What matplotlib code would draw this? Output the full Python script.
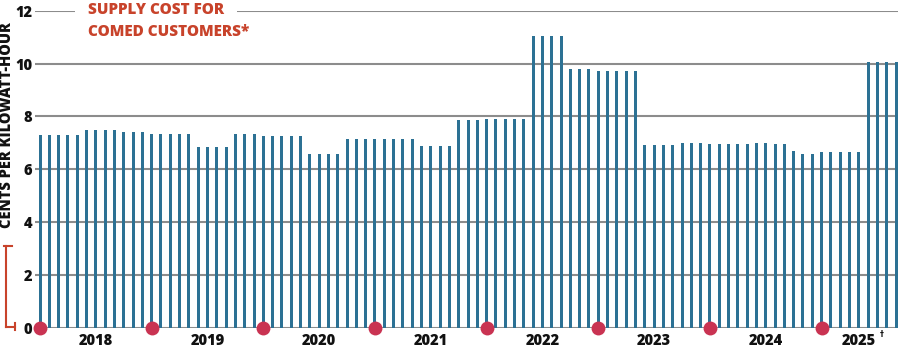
import matplotlib
matplotlib.use("Agg")
import matplotlib.pyplot as plt
from matplotlib.lines import Line2D
import numpy as np

# ---- data: ComEd supply cost, cents per kWh, monthly Jan 2018 - Sep 2025 ----
years = ["2018", "2019", "2020", "2021", "2022", "2023", "2024", "2025"]
v2018 = [7.31, 7.31, 7.31, 7.31, 7.31, 7.48, 7.48, 7.48, 7.48, 7.41, 7.41, 7.41]
v2019 = [7.34, 7.34, 7.34, 7.34, 7.34, 6.83, 6.83, 6.83, 6.83, 7.34, 7.34, 7.34]
v2020 = [7.27, 7.27, 7.27, 7.27, 7.26, 6.57, 6.57, 6.57, 6.57, 7.16, 7.16, 7.16]
v2021 = [7.16, 7.16, 7.16, 7.16, 7.16, 6.87, 6.87, 6.87, 6.87, 7.87, 7.87, 7.87]
v2022 = [7.91, 7.91, 7.91, 7.91, 7.91, 11.05, 11.05, 11.05, 11.05, 9.81, 9.81, 9.81]
v2023 = [9.73, 9.73, 9.73, 9.73, 9.73, 6.91, 6.91, 6.91, 6.90, 6.98, 6.98, 6.98]
v2024 = [6.96, 6.96, 6.96, 6.96, 6.97, 7.00, 7.00, 6.95, 6.95, 6.69, 6.58, 6.58]
v2025 = [6.66, 6.66, 6.66, 6.66, 6.66, 10.07, 10.07, 10.07, 10.07]
yearly = [v2018, v2019, v2020, v2021, v2022, v2023, v2024, v2025]
yticks = [0, 2, 4, 6, 8, 10, 12]

values = [v for yr in yearly for v in yr]
x = np.arange(len(values))
starts = np.cumsum([0] + [len(v) for v in yearly[:-1]])

BAR = "#2c7194"
GRID = "#8c8c8c"
RED = "#c8432b"
DOT = "#c93352"
FONT = "Open Sans"
WT = 800
FS = 10.5
FS_T = 11

W, H = 900, 354
fig = plt.figure(figsize=(W / 100, H / 100), dpi=100)
ax = fig.add_axes([35 / W, 1 - 327.7 / H, (897.7 - 35) / W, (327.7 - 10.7) / H])
ax.set_xlim(-0.54, len(values) - 1 + 0.18)
ax.set_ylim(0, 12)

for t in yticks:
    ax.axhline(t, color=GRID, lw=1.5, zorder=1)

ax.bar(x, values, width=0.32, color=BAR, zorder=2)

ax.plot(starts, np.zeros(len(starts)), "o", color=DOT, markersize=10,
        markeredgewidth=0, zorder=4, clip_on=False)

for s in ax.spines.values():
    s.set_visible(False)
ax.set_xticks([])
ax.set_yticks(yticks)
ax.set_yticklabels([str(t) for t in yticks], fontsize=FS, fontweight=WT,
                   family=FONT, color="#111111")
ax.tick_params(axis="y", length=0, pad=1.8)

# year labels
trans = ax.get_xaxis_transform()
for i, (yr, s) in enumerate(zip(years, starts)):
    n = len(yearly[i])
    cx = s + (6 if n == 12 else (n - 1) / 2)
    ax.text(cx, -0.042, yr, transform=trans, ha="center", va="center",
            fontsize=FS, fontweight=WT, family=FONT, color="#111111",
            clip_on=False)
    if yr == "2025":
        ax.text(cx + 2.2, -0.022, "\u2020", transform=trans, ha="left",
                va="center", fontsize=5.5, fontweight="bold",
                family="DejaVu Sans", color="#111111", clip_on=False)

# title
fig.text(88 / W, 1 - 10.5 / H, "SUPPLY COST FOR", ha="left", va="center",
         fontsize=FS_T, fontweight=WT, family=FONT, color=RED,
         bbox=dict(facecolor="white", edgecolor="none", pad=9))
fig.text(88 / W, 1 - 32.5 / H, "COMED CUSTOMERS*", ha="left", va="center",
         fontsize=FS_T, fontweight=WT, family=FONT, color=RED)

# y-axis label
fig.text(7.5 / W, 1 - 125 / H, "CENTS PER KILOWATT-HOUR", rotation=90,
         ha="center", va="center", fontsize=FS, fontweight=WT,
         family=FONT, color="#111111")

# red axis-break bracket
def px(xs, ys):
    return [a / W for a in xs], [1 - b / H for b in ys]

for xs, ys in [([4, 12], [245.7, 245.7]), ([5.7, 5.7], [245.7, 326.7]),
               ([5.7, 15], [326.7, 326.7]), ([15, 15], [323, 330])]:
    fx, fy = px(xs, ys)
    fig.add_artist(Line2D(fx, fy, color=RED, lw=1.5, transform=fig.transFigure))

fig.savefig("out.png", dpi=100, facecolor="white")
